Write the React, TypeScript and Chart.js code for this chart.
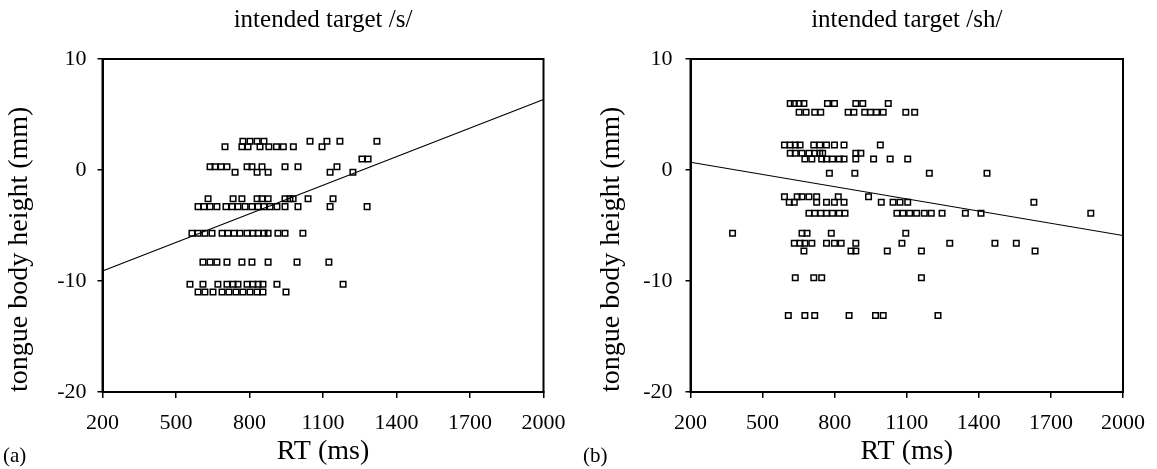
import React, { useEffect, useRef } from "react";
import { Chart, registerables } from "chart.js";

Chart.register(...registerables);

// ---- shared axis data ----
const xTicks = [200, 500, 800, 1100, 1400, 1700, 2000];
const yTicks = [-20, -10, 0, 10];
const fitRT = [200, 2000];

// ---- panel (a): intended target /s/ ----
const sTitle = "intended target /s/";
const sHeightLevels = [2.6, 2.1, 1.0, 0.3, -0.2, -2.6, -3.3, -5.7, -8.3, -10.3, -11.0];
const sRT = [
  [773, 802, 831, 859, 1047, 1116, 1169, 1320],
  [700, 769, 794, 843, 879, 910, 938, 979, 1096],
  [1259, 1284],
  [639, 659, 684, 708, 790, 810, 851, 945, 998, 1157],
  [741, 831, 876, 1129, 1222],
  [631, 733, 769, 831, 851, 876, 945, 965, 978, 1039, 1141],
  [590, 614, 639, 667, 704, 729, 753, 782, 810, 835, 859, 884, 912, 945, 998, 1129, 1280],
  [565, 590, 618, 647, 688, 712, 737, 761, 790, 814, 835, 859, 876, 916, 945, 1018],
  [610, 639, 667, 708, 769, 810, 876, 994, 1124],
  [557, 610, 671, 708, 733, 753, 790, 814, 835, 855, 912, 1182],
  [590, 618, 651, 688, 716, 745, 773, 802, 831, 855, 949],
];
const sFitHeight = [-9.1, 6.35];

// ---- panel (b): intended target /sh/ ----
const shTitle = "intended target /sh/";
const shHeightLevels = [6.0, 5.2, 2.25, 1.5, 1.0, -0.3, -2.4, -2.9, -3.9, -5.7, -6.6, -7.3, -9.7, -13.1];
const shRT = [
  [615, 632, 652, 672, 770, 799, 888, 917, 1023],
  [652, 681, 717, 742, 856, 880, 925, 949, 974, 1002, 1096, 1133],
  [591, 615, 636, 656, 713, 738, 766, 799, 839, 990],
  [615, 636, 664, 693, 717, 738, 750, 888, 909],
  [676, 705, 746, 766, 791, 819, 839, 888, 962, 1031, 1104],
  [778, 884, 1194, 1434],
  [591, 644, 664, 693, 725, 815, 941],
  [611, 632, 725, 766, 799, 839, 994, 1043, 1072, 1104, 1629],
  [693, 717, 742, 766, 791, 819, 843, 1059, 1084, 1112, 1141, 1173, 1202, 1247, 1344, 1409, 1866],
  [375, 664, 685, 786, 1096],
  [632, 656, 676, 705, 766, 799, 827, 888, 1080, 1279, 1467, 1556],
  [672, 868, 888, 1019, 1161, 1634],
  [636, 713, 746, 1161],
  [607, 676, 717, 860, 970, 1002, 1230],
];
const shFitHeight = [0.7, -5.9];

const xTitle = "RT (ms)";
const yTitle = "tongue body height (mm)";

const FONT = "'Liberation Serif', 'Times New Roman', Times, serif";

const framePlugin = {
  id: "frame",
  afterDraw(chart: any) {
    const { ctx, chartArea } = chart;
    const { left, top, right, bottom } = chartArea;
    ctx.save();
    ctx.strokeStyle = "#000";
    ctx.lineWidth = 2;
    ctx.strokeRect(left, top, right - left, bottom - top);
    ctx.restore();
  },
};

// panel title centred over the plotting area
const areaTitlePlugin = {
  id: "areaTitle",
  afterDraw(chart: any, _args: any, opts: any) {
    const { ctx, chartArea } = chart;
    ctx.save();
    ctx.fillStyle = "#000";
    ctx.font = `25px ${FONT}`;
    ctx.textAlign = "center";
    ctx.textBaseline = "alphabetic";
    ctx.fillText(opts.text, (chartArea.left + chartArea.right) / 2, opts.baseline);
    ctx.restore();
  },
};

type PanelProps = {
  title: string;
  levels: number[];
  rts: number[][];
  fit: number[];
  width: number;
  yAxisWidth: number;
  rightPad: number;
  yTickPad: number;
  yTitlePad: number;
};

function Panel(p: PanelProps) {
  const ref = useRef<HTMLCanvasElement | null>(null);
  useEffect(() => {
    if (!ref.current) return;
    const points = p.levels.flatMap((h, i) => p.rts[i].map((x) => ({ x, y: h })));
    const fitPts = fitRT.map((x, i) => ({ x, y: p.fit[i] }));
    const chart = new Chart(ref.current, {
      type: "scatter",
      data: {
        datasets: [
          {
            type: "scatter",
            data: points,
            pointStyle: "rect",
            pointRadius: 3.9,
            pointBorderWidth: 1.5,
            pointBorderColor: "#000",
            pointBackgroundColor: "rgba(0,0,0,0)",
            borderColor: "#000",
            backgroundColor: "rgba(0,0,0,0)",
          } as any,
          {
            type: "line",
            data: fitPts,
            borderColor: "#000",
            borderWidth: 1.2,
            pointRadius: 0,
            fill: false,
          } as any,
        ],
      },
      options: {
        animation: false,
        responsive: false,
        layout: { padding: { left: 0, right: p.rightPad, top: 59, bottom: 0 } },
        plugins: {
          legend: { display: false },
          tooltip: { enabled: false },
          title: { display: false },
          areaTitle: { text: p.title, baseline: 27 },
        },
        scales: {
          x: {
            type: "linear",
            min: 200,
            max: 2000,
            afterBuildTicks: (s: any) => {
              s.ticks = xTicks.map((v) => ({ value: v }));
            },
            afterFit: (s: any) => {
              s.height = 77;
            },
            grid: {
              display: true,
              drawOnChartArea: false,
              drawTicks: true,
              tickLength: 6,
              color: "#000",
              lineWidth: 1.5,
            },
            border: { display: true, color: "#000", width: 2 },
            ticks: {
              color: "#000",
              font: { family: FONT, size: 22 },
              padding: 12,
              maxRotation: 0,
              autoSkip: false,
              callback: (v: any) => String(v),
            },
            title: {
              display: true,
              text: xTitle,
              color: "#000",
              font: { family: FONT, size: 28 },
              padding: { top: 0, bottom: 1 },
            },
          },
          y: {
            type: "linear",
            min: -20,
            max: 10,
            afterBuildTicks: (s: any) => {
              s.ticks = yTicks.map((v) => ({ value: v }));
            },
            afterFit: (s: any) => {
              s.width = p.yAxisWidth;
            },
            grid: {
              display: true,
              drawOnChartArea: false,
              drawTicks: true,
              tickLength: 5,
              color: "#000",
              lineWidth: 1.5,
            },
            border: { display: true, color: "#000", width: 2 },
            ticks: {
              color: "#000",
              font: { family: FONT, size: 22 },
              padding: p.yTickPad,
              callback: (v: any) => String(v),
            },
            title: {
              display: true,
              text: yTitle,
              align: "start",
              color: "#000",
              font: { family: FONT, size: 28 },
              padding: { top: p.yTitlePad, bottom: 0 },
            },
          },
        },
      } as any,
      plugins: [framePlugin, areaTitlePlugin],
    });
    return () => chart.destroy();
  }, []);
  return <canvas ref={ref} width={p.width} height={469} style={{ display: "block" }} />;
}

const tagStyle: React.CSSProperties = {
  position: "absolute",
  top: 445,
  fontFamily: FONT,
  fontSize: 21,
  lineHeight: "21px",
  color: "#000",
};

export default function App() {
  return (
    <div
      style={{
        position: "absolute",
        left: 0,
        top: 0,
        width: 1157,
        height: 469,
        background: "#fff",
        overflow: "hidden",
      }}
    >
      <div style={{ position: "absolute", left: 0, top: 0 }}>
        <Panel
          title={sTitle}
          levels={sHeightLevels}
          rts={sRT}
          fit={sFitHeight}
          width={578}
          yAxisWidth={102.5}
          rightPad={34.5}
          yTickPad={11}
          yTitlePad={3}
        />
      </div>
      <div style={{ position: "absolute", left: 578, top: 0 }}>
        <Panel
          title={shTitle}
          levels={shHeightLevels}
          rts={shRT}
          fit={shFitHeight}
          width={579}
          yAxisWidth={112.5}
          rightPad={25.5}
          yTickPad={13}
          yTitlePad={17}
        />
      </div>
      <span style={{ ...tagStyle, left: 3 }}>(a)</span>
      <span style={{ ...tagStyle, left: 583 }}>(b)</span>
    </div>
  );
}
